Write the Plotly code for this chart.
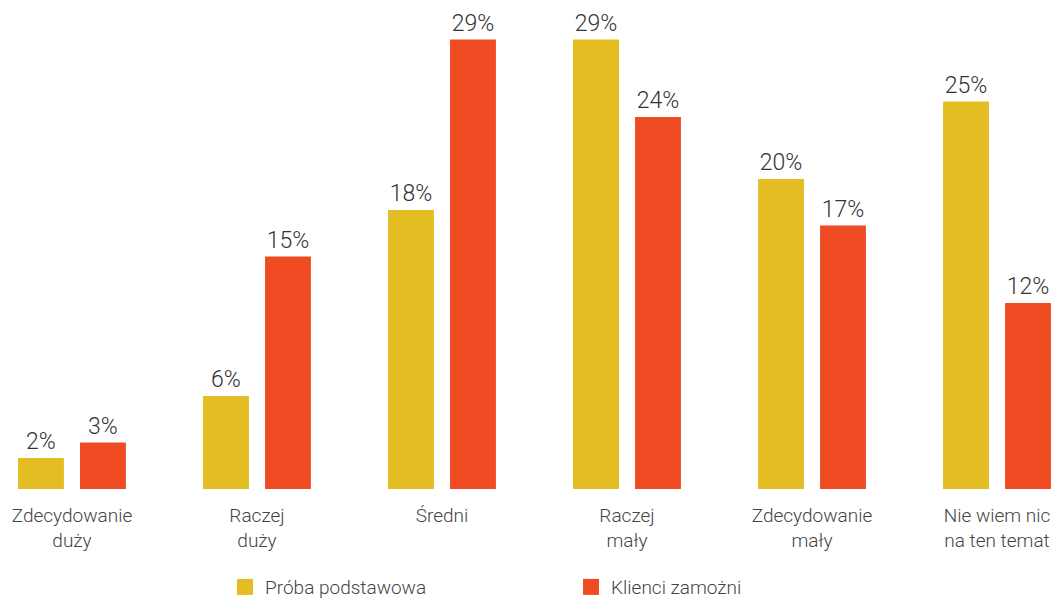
import plotly.graph_objects as go

categories = ["Zdecydowanie<br>duży", "Raczej<br>duży", "Średni", "Raczej<br>mały",
              "Zdecydowanie<br>mały", "Nie wiem nic<br>na ten temat"]
series_names = ["Próba podstawowa", "Klienci zamożni"]
proba = [2, 6, 18, 29, 20, 25]
klienci = [3, 15, 29, 24, 17, 12]
colors = ["#E3BD21", "#F04C24"]

FONT = "Roboto"

fig = go.Figure()
for name, vals, col in zip(series_names, [proba, klienci], colors):
    fig.add_trace(go.Bar(
        x=categories, y=vals, name=name, legendgroup=name, showlegend=False,
        marker=dict(color=col, line=dict(width=0)),
        text=[f"{v}%" for v in vals],
        textposition="outside",
        textfont=dict(family=FONT, size=23, color="#333333", weight=300),
        cliponaxis=False,
    ))
    # square legend swatch for the series
    fig.add_trace(go.Scatter(
        x=[None], y=[None], mode="markers", name=name, legendgroup=name,
        marker=dict(symbol="square", size=16, color=col, line=dict(width=0)),
    ))

fig.update_layout(
    width=1054, height=600,
    margin=dict(l=0, r=0, t=0, b=111, autoexpand=False),
    paper_bgcolor="white", plot_bgcolor="white",
    barmode="group", bargap=0.33, bargroupgap=0.26,
    font=dict(family=FONT, size=19, color="#444444", weight=300),
    xaxis=dict(range=[-0.389, 5.308], showgrid=False, showline=False,
               zeroline=False, ticks="", automargin=False, ticklabelstandoff=13,
               tickfont=dict(family=FONT, size=19, color="#444444", weight=300)),
    yaxis=dict(range=[0, 31.55], visible=False),
    legend=dict(orientation="h", x=0.2135, xanchor="left", y=-0.2005, yanchor="middle",
                entrywidth=301, entrywidthmode="pixels",
                font=dict(family=FONT, size=19, color="#444444", weight=300),
                itemsizing="trace"),
)

fig.write_html("out.html")
